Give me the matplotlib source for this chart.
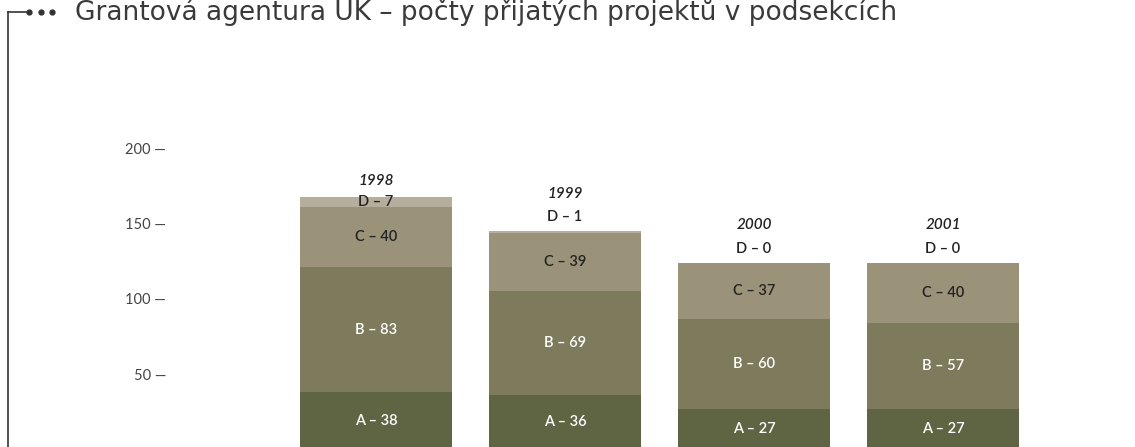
import matplotlib
matplotlib.use('Agg')
import matplotlib.pyplot as plt
from matplotlib import font_manager
from matplotlib.lines import Line2D
import numpy as num


years = ['1998', '1999', '2000', '2001']
sekce = ['A', 'B', 'C', 'D']
sekce_a = [38, 36, 27, 27]
sekce_b = [83, 69, 60, 57]
sekce_c = [40, 39, 37, 40]
sekce_d = [7, 1, 0, 0]
yticks = [50, 100, 150, 200]

title = 'Grantová agentura UK – počty přijatých projektů v podsekcích'

colors = ['#5f6443', '#7e7a5c', '#9a9279', '#b5ae9c']
text_colors = ['white', 'white', '#222222', '#222222']

names = set(f.name for f in font_manager.fontManager.ttflist)
narrow = 'Liberation Sans Narrow' if 'Liberation Sans Narrow' in names \
    else 'DejaVu Sans'
plt.rcParams['font.family'] = ['Lato', 'DejaVu Sans']

fig = plt.figure(figsize=(11.35, 4.47), dpi=100)
ax = fig.add_axes([166. / 1135., 0., 969. / 1135., 1.])

x = num.arange(len(years))
width = 0.804
values = [sekce_a, sekce_b, sekce_c, sekce_d]

bottom = num.zeros(len(years))
for iseg, vals in enumerate(values):
    vals = num.array(vals, dtype=float)
    ax.bar(x, vals, width, bottom=bottom, color=colors[iseg],
           edgecolor='none', linewidth=0)
    for i in range(len(years)):
        label = '%s – %d' % (sekce[iseg], vals[i])
        if iseg < 3 or vals[i] >= 5:
            ax.text(x[i], bottom[i] + vals[i] / 2., label,
                    ha='center', va='center', fontsize=10.5,
                    fontweight='semibold', color=text_colors[iseg])
        else:
            ax.annotate(label, (x[i], bottom[i] + vals[i]),
                        xytext=(0, 10), textcoords='offset points',
                        ha='center', va='center', fontsize=10.5,
                        fontweight='semibold', color='#222222')
    bottom = bottom + vals

for i in range(len(years)):
    d_inside = sekce_d[i] >= 5
    offset = 11 if d_inside else 27
    ax.annotate(years[i], (x[i], bottom[i]), xytext=(0, offset),
                textcoords='offset points', ha='center', va='center',
                fontsize=11, style='italic', fontweight='semibold',
                color='#222222')

ax.set_xlim(-1.111, 4.016)
ax.set_ylim(1.7, 298.5)
ax.set_yticks(yticks)
ax.set_yticklabels(['%d —' % v for v in yticks])
ax.tick_params(axis='y', length=0, pad=0, labelsize=10.5,
               labelcolor='#444444')
ax.set_xticks([])
for s in ax.spines.values():
    s.set_visible(False)
ax.patch.set_alpha(0)

# bracket and dots in front of the title
fig.add_artist(Line2D([8. / 1135., 8. / 1135.], [0., 1. - 12. / 447.],
                      transform=fig.transFigure, color='#333333', lw=1.2))
fig.add_artist(Line2D([8. / 1135., 27. / 1135.],
                      [1. - 12. / 447., 1. - 12. / 447.],
                      transform=fig.transFigure, color='#333333', lw=1.2))
for px in [29., 40.5, 52.]:
    fig.add_artist(Line2D([px / 1135.], [1. - 12. / 447.], marker='o',
                          markersize=3.5, color='#333333',
                          transform=fig.transFigure))
fig.text(75. / 1135., 1. - 20. / 447., title, family=narrow,
         fontsize=19, color='#3a3a3a', ha='left', va='baseline')

fig.savefig('out.png', dpi=100)
